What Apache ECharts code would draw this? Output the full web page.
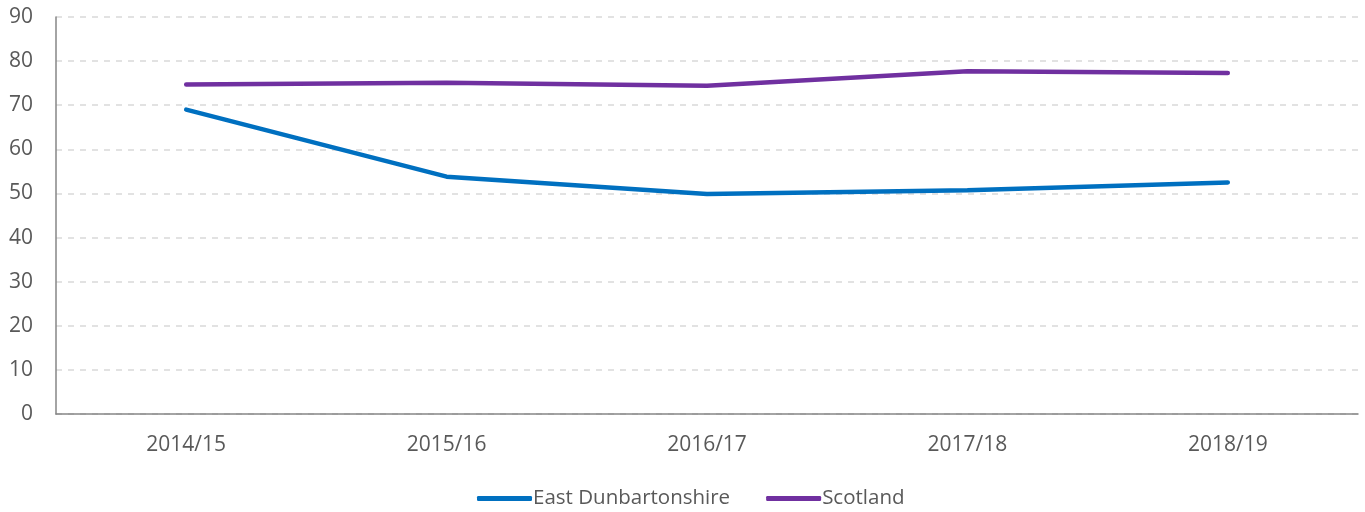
<!DOCTYPE html>
<html>
<head>
<meta charset="utf-8">
<script src="https://cdn.jsdelivr.net/npm/echarts@6/dist/echarts.min.js"></script>
<style>html,body{margin:0;padding:0;background:#fff}#c{width:1365px;height:512px}</style>
</head>
<body>
<div id="c"></div>
<script>
const categories = ['2014/15', '2015/16', '2016/17', '2017/18', '2018/19'];
const eastDunbartonshire = [69.0, 53.8, 49.9, 50.7, 52.5];
const scotland = [74.7, 75.1, 74.4, 77.7, 77.3];
const yTicks = {min: 0, max: 90, interval: 10};

const chart = echarts.init(document.getElementById('c'));
const font = "'Open Sans', 'Noto Sans', sans-serif";
chart.setOption({
  animation: false,
  grid: {left: 56, right: 7, top: 17, bottom: 98, containLabel: false},
  legend: {
    bottom: -2, left: 472, itemWidth: 55, itemHeight: 5, itemGap: 36,
    icon: 'roundRect',
    textStyle: {fontFamily: font, fontSize: 20.5, color: '#595959', padding: [0,0,0,-4]},
    data: ['East Dunbartonshire', 'Scotland']
  },
  xAxis: {
    type: 'category', data: categories, boundaryGap: true,
    axisLine: {lineStyle: {color: '#868686', width: 1.5}},
    axisTick: {show: false},
    axisLabel: {fontFamily: font, fontSize: 21, color: '#595959', margin: 21}
  },
  yAxis: {
    type: 'value', min: yTicks.min, max: yTicks.max, interval: yTicks.interval,
    axisLine: {show: true, lineStyle: {color: '#868686', width: 1.5}},
    axisTick: {show: false},
    axisLabel: {fontFamily: font, fontSize: 21, color: '#595959', margin: 23},
    splitLine: {lineStyle: {color: '#d9d9d9', type: [6, 6], width: 1.5}}
  },
  series: [
    {name: 'East Dunbartonshire', type: 'line', data: eastDunbartonshire, showSymbol: false, symbol: 'none',
     lineStyle: {color: '#0070C0', width: 4.5, cap: 'round'}, itemStyle: {color: '#0070C0'}},
    {name: 'Scotland', type: 'line', data: scotland, showSymbol: false, symbol: 'none',
     lineStyle: {color: '#7030A0', width: 4.5, cap: 'round'}, itemStyle: {color: '#7030A0'}}
  ]
});
</script>
</body>
</html>
